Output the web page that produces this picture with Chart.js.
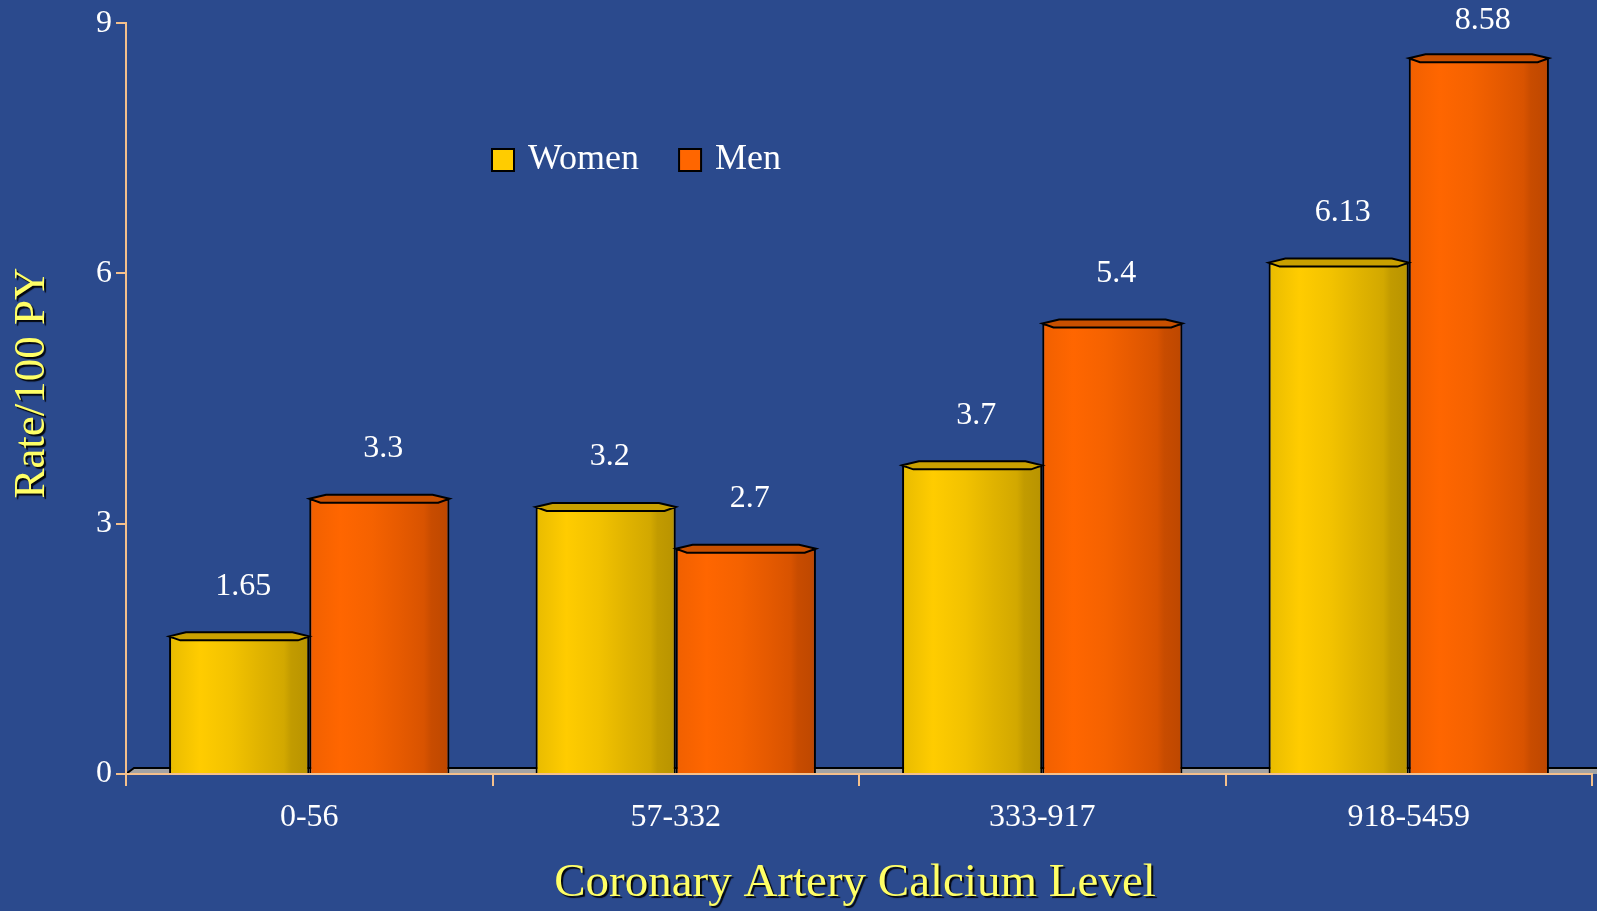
<!DOCTYPE html>
<html>
<head>
<meta charset="utf-8">
<title>Coronary Artery Calcium Level</title>
<script src="https://cdn.jsdelivr.net/npm/chart.js@4.4.0/dist/chart.umd.min.js"></script>
<style>
  html, body { margin: 0; padding: 0; background: #2c4a8c; }
  canvas { display: block; }
</style>
</head>
<body>
<canvas id="cacChart" width="1597" height="911"></canvas>
<script>
// data
var categories = ["0-56", "57-332", "333-917", "918-5459"];
var women = [1.65, 3.2, 3.7, 6.13];
var men = [3.3, 2.7, 5.4, 8.58];
var seriesNames = ["Women", "Men"];
var yMin = 0, yMax = 9, yStep = 3;
var xTitle = "Coronary Artery Calcium Level";
var yTitle = "Rate/100 PY";

var SERIF = '"Liberation Serif", "Times New Roman", serif';
var AXIS = "#f4c08c";

// light -> dark shading across each bar, plus a darker lid colour
var shades = {
  Women: { base: "#ffcc00", stops: ["#e8bb00", "#ffcc00", "#f2c200", "#e0b300", "#d2a800", "#c29b00", "#b89300"], lid: "#c9a000" },
  Men:   { base: "#ff6600", stops: ["#f06000", "#ff6600", "#f56200", "#e65a00", "#d85300", "#c84c00", "#bd4700"], lid: "#c95000" }
};

var slidePlugin = {
  id: "slide",
  beforeDraw: function(chart) {
    var c = chart.ctx, a = chart.chartArea;
    c.save();
    c.fillStyle = "#2b4a8d";
    c.fillRect(0, 0, chart.width, chart.height);
    // grey floor under the bars
    c.beginPath();
    c.moveTo(a.left, a.bottom);
    c.lineTo(a.left + 8, a.bottom - 6);
    c.lineTo(chart.width, a.bottom - 6);
    c.lineTo(chart.width, a.bottom);
    c.closePath();
    c.fillStyle = "#a3a3a3";
    c.fill();
    c.beginPath();
    c.moveTo(a.left, a.bottom);
    c.lineTo(a.left + 8, a.bottom - 6);
    c.lineTo(chart.width, a.bottom - 6);
    c.strokeStyle = "#000";
    c.lineWidth = 2;
    c.stroke();
    c.restore();
  },
  beforeDatasetsDraw: function(chart) {
    var c = chart.ctx;
    chart.data.datasets.forEach(function(ds, i) {
      var sh = shades[ds.label];
      chart.getDatasetMeta(i).data.forEach(function(el) {
        var x0 = el.x - el.width / 2, x1 = el.x + el.width / 2;
        var g = c.createLinearGradient(x0, 0, x1, 0);
        var pos = [0, 0.22, 0.45, 0.65, 0.82, 0.87, 1];
        sh.stops.forEach(function(col, k) { g.addColorStop(pos[k], col); });
        el.options.backgroundColor = g;
      });
    });
  },
  afterDatasetsDraw: function(chart) {
    var c = chart.ctx, a = chart.chartArea;
    c.save();
    chart.data.datasets.forEach(function(ds, i) {
      var sh = shades[ds.label];
      chart.getDatasetMeta(i).data.forEach(function(el, j) {
        var x0 = el.x - el.width / 2, x1 = el.x + el.width / 2, y = el.y;
        var w = x1 - x0;
        // lid
        c.beginPath();
        c.moveTo(x0, y);
        c.lineTo(x0 + w * 0.12, y - 4);
        c.lineTo(x1 - w * 0.12, y - 4);
        c.lineTo(x1, y);
        c.lineTo(x1 - w * 0.08, y + 4);
        c.lineTo(x0 + w * 0.08, y + 4);
        c.closePath();
        c.fillStyle = sh.lid;
        c.fill();
        c.strokeStyle = "#000";
        c.lineWidth = 2;
        c.stroke();
        // value label
        c.fillStyle = "#ffffff";
        c.font = "32px " + SERIF;
        c.textAlign = "center";
        c.textBaseline = "middle";
        c.fillText(String(ds.data[j]), el.x + 4, Math.max(y - 50, 21));
      });
    });

    // legend
    var lx = 492, ly = 160;
    c.font = "36px " + SERIF;
    c.textBaseline = "middle";
    c.textAlign = "left";
    chart.data.datasets.forEach(function(ds) {
      c.fillStyle = shades[ds.label].base;
      c.fillRect(lx, ly - 11, 22, 22);
      c.strokeStyle = "#000";
      c.lineWidth = 2;
      c.strokeRect(lx, ly - 11, 22, 22);
      c.fillStyle = "#ffffff";
      c.fillText(ds.label, lx + 36, ly);
      lx += 36 + c.measureText(ds.label).width + 40;
    });

    // axis titles with drop shadow
    c.shadowColor = "rgba(0,0,0,0.9)";
    c.shadowOffsetX = 2;
    c.shadowOffsetY = 2;
    c.shadowBlur = 1;
    c.fillStyle = "#ffff66";
    c.font = "47px " + SERIF;
    c.textAlign = "center";
    c.textBaseline = "middle";
    c.fillText(xTitle, (a.left + a.right) / 2 - 4, 884);
    c.translate(32, 383);
    c.rotate(-Math.PI / 2);
    c.font = "45px " + SERIF;
    c.fillText(yTitle, 0, 0);
    c.restore();
  }
};

function keepColor(name) {
  return function() { return shades[name].base; };
}

new Chart(document.getElementById("cacChart"), {
  type: "bar",
  data: {
    labels: categories,
    datasets: [
      { label: seriesNames[0], data: women, backgroundColor: keepColor("Women"), borderColor: "#000", borderWidth: 2, borderSkipped: "bottom" },
      { label: seriesNames[1], data: men, backgroundColor: keepColor("Men"), borderColor: "#000", borderWidth: 2, borderSkipped: "bottom" }
    ]
  },
  options: {
    responsive: false,
    animation: false,
    layout: { padding: { top: 22, right: 5, left: 0, bottom: 0 } },
    categoryPercentage: 0.765,
    barPercentage: 1.0,
    plugins: {
      legend: { display: false },
      tooltip: { enabled: false }
    },
    scales: {
      x: {
        offset: true,
        afterFit: function(s) { s.height = 137; },
        grid: { display: true, drawOnChartArea: false, drawTicks: true, tickLength: 12, color: AXIS, lineWidth: 2 },
        border: { display: true, color: AXIS, width: 2 },
        ticks: { color: "#ffffff", font: { family: SERIF, size: 32 }, padding: 12 }
      },
      y: {
        min: yMin,
        max: yMax,
        afterFit: function(s) { s.width = 126; },
        grid: { display: true, drawOnChartArea: false, drawTicks: true, tickLength: 10, color: AXIS, lineWidth: 2 },
        border: { display: true, color: AXIS, width: 2 },
        ticks: { stepSize: yStep, color: "#ffffff", font: { family: SERIF, size: 32 }, padding: 4 }
      }
    }
  },
  plugins: [slidePlugin]
});
</script>
</body>
</html>
